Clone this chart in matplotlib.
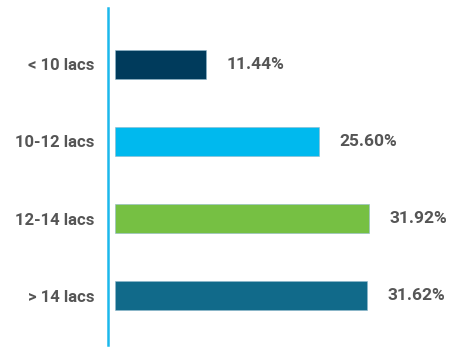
import matplotlib.pyplot as plt

categories = ["< 10 lacs", "10-12 lacs", "12-14 lacs", "> 14 lacs"]
values = [11.44, 25.60, 31.92, 31.62]
value_labels = ["11.44%", "25.60%", "31.92%", "31.62%"]
colors = ["#003B5C", "#00B9EE", "#76C043", "#116A8A"]

plt.rcParams['font.family'] = ['Roboto', 'DejaVu Sans']

W, H = 466, 355
fig = plt.figure(figsize=(W / 100, H / 100), dpi=100)
ax = fig.add_axes([108 / W, 1 - 345 / H, (W - 108) / W, (345 - 8) / H])

pos = list(range(len(categories)))
ax.barh(pos, values, height=0.38, color=colors, edgecolor="#8fb8cc", linewidth=0.4)

for p, v, lab in zip(pos, values, value_labels):
    ax.text(v + 2.6, p, lab, va="center", ha="left", fontsize=12.5,
            fontweight="bold", color="#555555")

ax.set_xlim(-0.9, 44.1)
ax.set_ylim(3.64, -0.73)
ax.set_yticks(pos)
ax.set_yticklabels(categories, fontsize=12, fontweight="bold", color="#555555")
ax.tick_params(axis="y", length=0, pad=9.5)
ax.set_xticks([])

for s in ["top", "right", "bottom"]:
    ax.spines[s].set_visible(False)
ax.spines["left"].set_color("#1BB8EC")
ax.spines["left"].set_linewidth(1.8)

fig.savefig("out.png", dpi=100)
